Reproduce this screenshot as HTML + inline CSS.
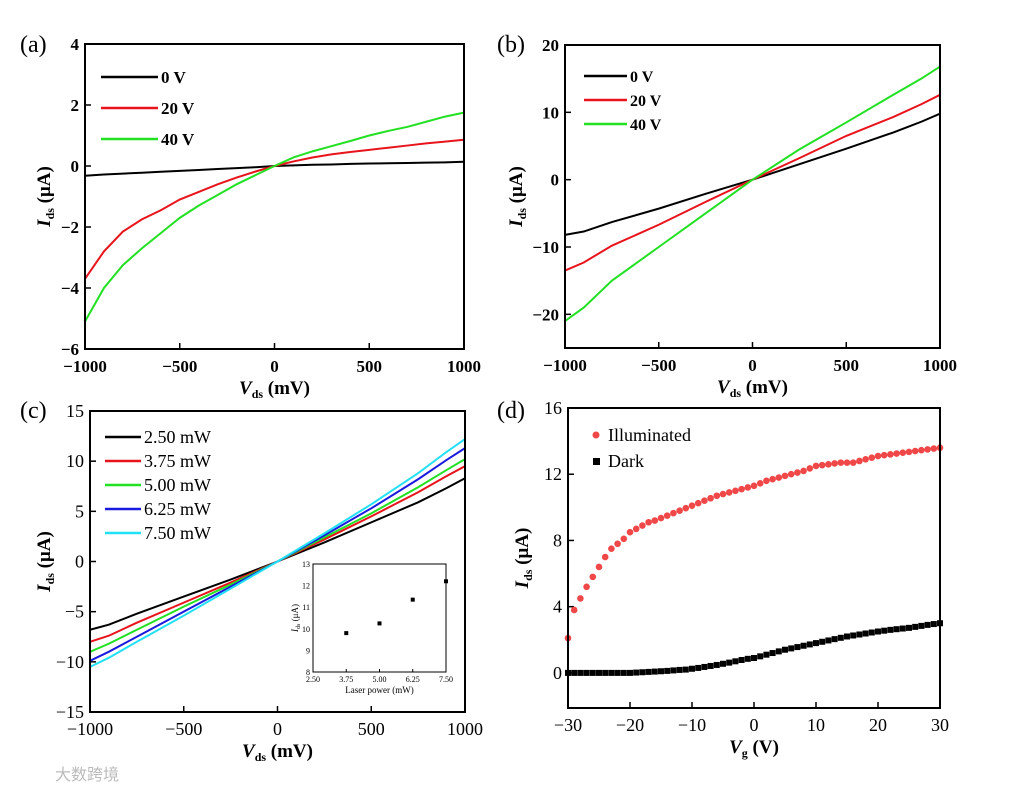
<!DOCTYPE html>
<html><head><meta charset="utf-8"><style>
body{margin:0;background:#fff;}
svg{display:block;font-family:"Liberation Serif","Noto Serif CJK SC",serif;}
</style></head><body>
<svg id="fig" width="1010" height="793" viewBox="0 0 1010 793"></svg>
<script>
// ---------- DATA ----------
const aX = [-1000,-900,-800,-700,-600,-500,-400,-300,-200,-100,0,100,200,300,400,500,600,700,800,900,1000];
const a0V = [-0.32,-0.28,-0.25,-0.22,-0.19,-0.16,-0.13,-0.1,-0.07,-0.04,0,0.02,0.04,0.05,0.07,0.08,0.09,0.1,0.11,0.12,0.14];
const a20V = [-3.7,-2.8,-2.15,-1.75,-1.45,-1.1,-0.85,-0.6,-0.38,-0.18,0,0.15,0.28,0.38,0.46,0.53,0.6,0.67,0.74,0.8,0.86];
const a40V = [-5.1,-4.0,-3.25,-2.7,-2.2,-1.7,-1.3,-0.95,-0.6,-0.3,0,0.28,0.48,0.65,0.82,1.0,1.15,1.28,1.45,1.62,1.75];
const aTicksY = [4,2,0,-2,-4,-6];
const xTicks = [-1000,-500,0,500,1000];

const bX = [-1000,-900,-750,-500,-250,0,250,500,750,900,1000];
const b0V = [-8.2,-7.7,-6.3,-4.3,-2.1,0,2.3,4.6,7.0,8.6,9.8];
const b20V = [-13.5,-12.3,-9.8,-6.7,-3.3,0,3.2,6.5,9.3,11.2,12.6];
const b40V = [-21,-19,-15,-10,-5,0,4.5,8.5,12.6,15,16.8];
const bTicksY = [20,10,0,-10,-20];

const cX = [-1000,-900,-750,-500,-250,0,250,500,750,900,1000];
const c250 = [-6.8,-6.3,-5.2,-3.5,-1.8,0,1.9,3.9,5.9,7.3,8.3];
const c375 = [-8.0,-7.4,-6.1,-4.1,-2.1,0,2.2,4.5,6.9,8.5,9.5];
const c500 = [-9.0,-8.2,-6.8,-4.5,-2.3,0,2.4,4.8,7.4,9.1,10.2];
const c625 = [-9.9,-9.0,-7.5,-5.0,-2.5,0,2.6,5.3,8.2,10.1,11.3];
const c750 = [-10.5,-9.6,-8.0,-5.4,-2.7,0,2.8,5.7,8.8,10.9,12.2];
const cTicksY = [15,10,5,0,-5,-10,-15];
const insetX = [3.75,5.00,6.25,7.50];
const insetY = [9.8,10.25,11.35,12.2];

const dX = [];for(let v=-30;v<=30;v++)dX.push(v);
const dIllum = [2.1,3.8,4.5,5.2,5.8,6.4,7.0,7.5,7.8,8.1,8.5,8.7,8.9,9.1,9.2,9.35,9.5,9.65,9.8,9.95,10.1,10.25,10.4,10.55,10.7,10.8,10.9,11.0,11.1,11.2,11.3,11.45,11.6,11.7,11.8,11.9,12.0,12.1,12.2,12.35,12.5,12.55,12.6,12.65,12.7,12.7,12.7,12.8,12.9,13.0,13.1,13.15,13.2,13.25,13.3,13.35,13.4,13.45,13.5,13.55,13.6];
const dDark = [0,0,0,0,0,0,0,0,0,0,0,0.02,0.04,0.06,0.08,0.1,0.12,0.15,0.18,0.2,0.25,0.3,0.36,0.42,0.48,0.55,0.62,0.7,0.78,0.85,0.9,1.0,1.1,1.2,1.3,1.4,1.48,1.56,1.64,1.72,1.8,1.88,1.96,2.04,2.12,2.2,2.26,2.32,2.38,2.44,2.5,2.55,2.6,2.64,2.68,2.72,2.78,2.84,2.9,2.95,3.0];
const dTicksY = [16,12,8,4,0];
const dTicksX = [-30,-20,-10,0,10,20,30];

// ---------- DRAW ----------
const svg=document.getElementById('fig');const NS='http://www.w3.org/2000/svg';
function el(t,at,p){const e=document.createElementNS(NS,t);for(const k in at)e.setAttribute(k,at[k]);(p||svg).appendChild(e);return e;}
function txt(s,x,y,at,p){const e=el('text',Object.assign({x:x,y:y},at),p);e.textContent=s;return e;}
function scale(d0,d1,r0,r1){return v=>r0+(v-d0)/(d1-d0)*(r1-r0);}

function panel(cfg){
  const g=el('g',{});
  
  
  const sx=scale(cfg.xd[0],cfg.xd[1],cfg.x0,cfg.x1), sy=scale(cfg.yd[0],cfg.yd[1],cfg.y1,cfg.y0);
  const fw=cfg.bold?'bold':'normal';
  cfg.xt.forEach(v=>{const x=sx(v);
    el('line',{x1:x,x2:x,y1:cfg.y1,y2:cfg.y1-6,stroke:'#000','stroke-width':1.5},g);
    const t=txt(String(v).replace('-','\u2212'),x,cfg.y1+23,{'text-anchor':'middle','font-size':cfg.fs,'font-weight':fw},g);
    });
  cfg.yt.forEach(v=>{const y=sy(v);
    el('line',{x1:cfg.x0,x2:cfg.x0+6,y1:y,y2:y,stroke:'#000','stroke-width':1.5},g);
    const t=txt(String(v).replace('-','\u2212'),cfg.x0-6,y+6,{'text-anchor':'end','font-size':cfg.fs,'font-weight':fw},g);
    });
  cfg.series.forEach(s=>{
    if(s.dots){s.ys.forEach((v,i)=>{
      if(s.sq)el('rect',{x:sx(s.xs[i])-3,y:sy(v)-3,width:6,height:6,fill:s.c},g);
      else el('circle',{cx:sx(s.xs[i]),cy:sy(v),r:3.3,fill:s.c},g);});}
    else{const p=el('polyline',{points:s.ys.map((v,i)=>sx(s.xs[i])+','+sy(v)).join(' '),fill:'none',stroke:s.c,'stroke-width':2},g);
      }
  });
  const b=el('rect',{x:cfg.x0,y:cfg.y0,width:cfg.x1-cfg.x0,height:cfg.y1-cfg.y0,fill:'none',stroke:'#000','stroke-width':2},g);
  
  const xl=txt('',(cfg.x0+cfg.x1)/2,cfg.y1+45,{'text-anchor':'middle','font-size':19,'font-weight':'bold'},g);
  xl.innerHTML='<tspan font-style="italic">V</tspan><tspan font-size="12" dy="4">'+cfg.xsub+'</tspan><tspan dy="-4"> '+cfg.xunit+'</tspan>';
  
  const yl=txt('',0,0,{'text-anchor':'middle','font-size':19,'font-weight':'bold',transform:'translate('+(cfg.ylx)+','+((cfg.y0+cfg.y1)/2)+') rotate(-90)'},g);
  yl.innerHTML='<tspan font-style="italic">I</tspan><tspan font-size="12" dy="4">ds</tspan><tspan dy="-4"> (μA)</tspan>';
  
  const pl=txt(cfg.label,cfg.lx,cfg.ly,{'font-size':24},g);
  
  return {g,sx,sy};
}
function legend(g,items,x,y,dy,len,fs,bold,dots){
  items.forEach((it,i)=>{const yy=y+i*dy;
    if(dots){ if(it.sq)el('rect',{x:x-3,y:yy-3,width:7,height:7,fill:it.c},g); else el('circle',{cx:x,cy:yy,r:3.5,fill:it.c},g);}
    else el('line',{x1:x,x2:x+len,y1:yy,y2:yy,stroke:it.c,'stroke-width':2.5},g);
    const t=txt(it.t,x+len+(dots?-len+12:3),yy+6,{'font-size':fs,'font-weight':bold?'bold':'normal'},g);
    });
}
const A=panel({name:'panel-a',x0:85,x1:464,y0:44,y1:349,xd:[-1000,1000],yd:[-6,4],xt:xTicks,yt:aTicksY,fs:17,bold:true,
 series:[{xs:aX,ys:a0V,c:'#000'},{xs:aX,ys:a20V,c:'#e8141b'},{xs:aX,ys:a40V,c:'#22e022'}],xsub:'ds',xunit:'(mV)',ylx:50,label:'(a)',lx:20,ly:52});
legend(A.g,[{t:'0 V',c:'#000'},{t:'20 V',c:'#e8141b'},{t:'40 V',c:'#22e022'}],101,77,31,57,17,true);
const B=panel({name:'panel-b',x0:565,x1:940,y0:45,y1:348,xd:[-1000,1000],yd:[-25,20],xt:xTicks,yt:bTicksY,fs:17,bold:true,
 series:[{xs:bX,ys:b0V,c:'#000'},{xs:bX,ys:b20V,c:'#e8141b'},{xs:bX,ys:b40V,c:'#22e022'}],xsub:'ds',xunit:'(mV)',ylx:522,label:'(b)',lx:497,ly:52});
legend(B.g,[{t:'0 V',c:'#000'},{t:'20 V',c:'#e8141b'},{t:'40 V',c:'#22e022'}],584,76,24,43,16,true);
const C=panel({name:'panel-c',x0:90,x1:465,y0:411,y1:712,xd:[-1000,1000],yd:[-15,15],xt:xTicks,yt:cTicksY,fs:18,bold:false,
 series:[{xs:cX,ys:c250,c:'#000'},{xs:cX,ys:c375,c:'#e8141b'},{xs:cX,ys:c500,c:'#22e022'},{xs:cX,ys:c625,c:'#1a1adf'},{xs:cX,ys:c750,c:'#22e0f5'}],xsub:'ds',xunit:'(mV)',ylx:50,label:'(c)',lx:20,ly:418});
legend(C.g,[{t:'2.50 mW',c:'#000'},{t:'3.75 mW',c:'#e8141b'},{t:'5.00 mW',c:'#22e022'},{t:'6.25 mW',c:'#1a1adf'},{t:'7.50 mW',c:'#22e0f5'}],105,437,24,36,18,false);
(function(){const g=el('g',{});
 const x0=313,x1=446,y0=564,y1=672;const sx=scale(2.5,7.5,x0,x1),sy=scale(8,13,y1,y0);
 el('rect',{x:x0,y:y0,width:x1-x0,height:y1-y0,fill:'#fff',stroke:'#000','stroke-width':1},g);
 ['2.50','3.75','5.00','6.25','7.50'].forEach(v=>{txt(v,sx(+v),y1+10,{'text-anchor':'middle','font-size':8},g);el('line',{x1:sx(+v),x2:sx(+v),y1:y1,y2:y1-3,stroke:'#000'},g);});
 [8,9,10,11,12,13].forEach(v=>{txt(v,x0-3,sy(v)+3,{'text-anchor':'end','font-size':8},g);});
 insetX.forEach((v,i)=>el('rect',{x:sx(v)-2,y:sy(insetY[i])-2,width:4,height:4,fill:'#000'},g));
 txt('Laser power (mW)',(x0+x1)/2,y1+21,{'text-anchor':'middle','font-size':9},g);
 const yl=txt('',0,0,{'text-anchor':'middle','font-size':9,transform:'translate(298,618) rotate(-90)'},g);yl.innerHTML='<tspan font-style="italic">I</tspan><tspan font-size="6" dy="2">ds</tspan><tspan dy="-2"> (μA)</tspan>';
})();
const D=panel({name:'panel-d',x0:568,x1:940,y0:408,y1:708,xd:[-30,30],yd:[-2.12,16],xt:dTicksX,yt:dTicksY,fs:18,bold:false,
 series:[{xs:dX,ys:dIllum,c:'#f04848',dots:true},{xs:dX,ys:dDark,c:'#000',dots:true,sq:true}],xsub:'g',xunit:'(V)',ylx:528,label:'(d)',lx:497,ly:418});
legend(D.g,[{t:'Illuminated',c:'#f04848'},{t:'Dark',c:'#000',sq:true}],596,435,26,0,18,false,true);
const w=txt('大数跨境',55,780,{'font-size':16,fill:'#bbb','font-family':'"Liberation Sans","Noto Sans CJK SC",sans-serif'});

</script>
</body></html>
